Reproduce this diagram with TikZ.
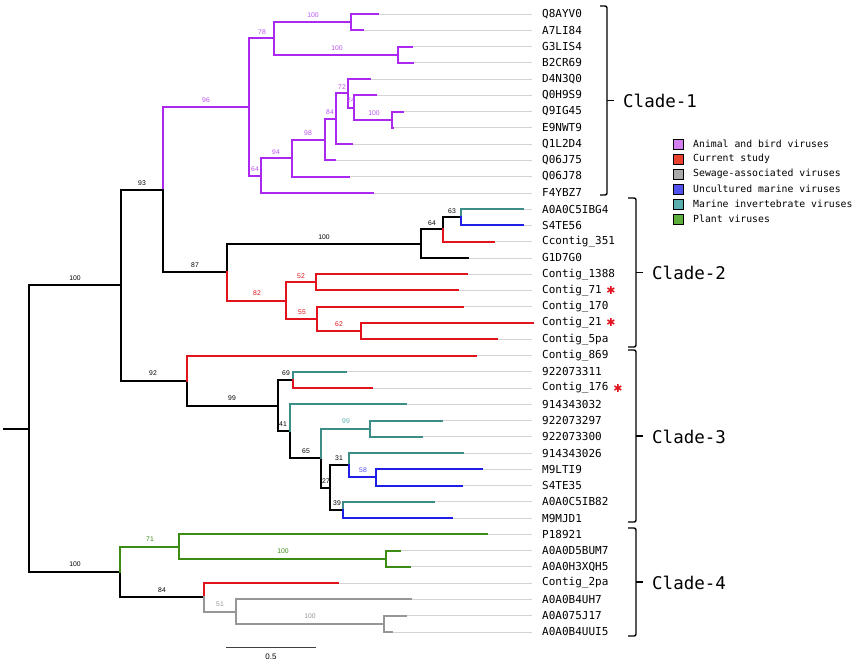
\documentclass[tikz,border=0pt]{standalone}
\usepackage{fontspec}
\newfontfamily\monofont{DejaVu Sans Mono}
\newfontfamily\supfont{Liberation Sans}
\newfontfamily\symfont{DejaVu Sans}
\definecolor{cpur}{RGB}{170,40,240}
\definecolor{cred}{RGB}{225,20,30}
\definecolor{cteal}{RGB}{60,140,135}
\definecolor{cblue}{RGB}{30,30,230}
\definecolor{cgreen}{RGB}{60,140,20}
\definecolor{cgray}{RGB}{150,150,150}
\definecolor{lpur}{RGB}{213,128,240}
\definecolor{lred}{RGB}{232,65,46}
\definecolor{lgray}{RGB}{170,170,170}
\definecolor{lblue}{RGB}{82,82,240}
\definecolor{lteal}{RGB}{90,174,174}
\definecolor{lgreen}{RGB}{92,173,60}
\definecolor{leadc}{RGB}{212,212,212}
\begin{document}
\begin{tikzpicture}[x=1pt,y=-1pt,
  br/.style={line width=2pt, line cap=rect, line join=miter},
  leader/.style={line width=0.8pt, leadc},
  leaf/.style={font=\monofont\fontsize{11}{13}\selectfont, anchor=west, inner sep=0pt},
  sup/.style={font=\supfont\fontsize{6.8}{8}\selectfont, inner sep=0pt},
  clade/.style={font=\monofont\fontsize{17.5}{20}\selectfont, anchor=west, inner sep=0pt},
  legtxt/.style={font=\monofont\fontsize{9.8}{11}\selectfont, anchor=west, inner sep=0pt},
  legbox/.style={draw=black, line width=0.9pt, minimum size=10pt, inner sep=0pt},
  brk/.style={line width=1.4pt, rounded corners=2pt},
  astk/.style={font=\symfont\fontsize{11}{12}\selectfont, text=cred, inner sep=0pt}]
\useasboundingbox (0,0) rectangle (856,664);
\fill[white] (0,0) rectangle (856,664);

% leaves
\foreach \i/\n/\tx/\ty in {
0/Q8AYV0/378/14.0, 1/A7LI84/363/30.3, 2/G3LIS4/412/46.5, 3/B2CR69/413/62.8,
4/D4N3Q0/370/79.0, 5/Q0H9S9/376/95.3, 6/Q9IG45/403/111.6, 7/E9NWT9/393/127.8,
8/Q1L2D4/352/144.1, 9/Q06J75/335/160.3, 10/Q06J78/349/176.6, 11/F4YBZ7/373/192.9,
12/A0A0C5IBG4/523/209.1, 13/S4TE56/523/225.4, 14/Ccontig\_351/494/241.6, 15/G1D7G0/468/257.9,
16/Contig\_1388/467/274.2, 17/Contig\_71/458/290.4, 18/Contig\_170/463/306.7, 19/Contig\_21/533/322.9,
20/Contig\_5pa/497/339.2, 21/Contig\_869/476/355.5, 22/922073311/346/371.7, 23/Contig\_176/372/388.0,
24/914343032/406/404.2, 25/922073297/442/420.5, 26/922073300/422/436.8, 27/914343026/463/453.0,
28/M9LTI9/482/469.3, 29/S4TE35/462/485.5, 30/A0A0C5IB82/434/501.8, 31/M9MJD1/452/518.1,
32/P18921/487/534.3, 33/A0A0D5BUM7/400/550.6, 34/A0A0H3XQH5/410/566.8, 35/Contig\_2pa/338/583.1,
36/A0A0B4UH7/411/599.4, 37/A0A075J17/406/615.6, 38/A0A0B4UUI5/392/631.9}{
  \coordinate (L\i) at (\tx,\ty);
  \coordinate (E\i) at (532,\ty);
  \draw[leader] (L\i) -- (E\i);
  \node[leaf] (t\i) at (542,\ty) {\n};
}

% internal nodes
\coordinate (a1) at (351,22.2);
\coordinate (a2) at (398,54.7);
\coordinate (a3) at (274,38.4);
\coordinate (a4) at (392,119.7);
\coordinate (a5) at (354,107.5);
\coordinate (a6) at (348,93.2);
\coordinate (a7) at (336,118.7);
\coordinate (a8) at (325,139.5);
\coordinate (a9) at (292,158.0);
\coordinate (a10) at (261,175.5);
\coordinate (a11) at (249,107.0);
\coordinate (b1) at (461,217.3);
\coordinate (b2) at (443,229.4);
\coordinate (b3) at (421,243.7);
\coordinate (b4) at (316,282.3);
\coordinate (b5) at (361,331.1);
\coordinate (b6) at (317,318.9);
\coordinate (b7) at (286,300.6);
\coordinate (b8) at (227,272.1);
\coordinate (c0) at (163,189.6);
\coordinate (c1) at (293,379.9);
\coordinate (c2) at (370,428.7);
\coordinate (c3) at (376,477.4);
\coordinate (c4) at (349,465.2);
\coordinate (c5) at (343,509.9);
\coordinate (c6) at (330,487.6);
\coordinate (c7) at (321,458.1);
\coordinate (c8) at (290,431.2);
\coordinate (c9) at (278,405.5);
\coordinate (c10) at (187,380.5);
\coordinate (r1) at (121,285.0);
\coordinate (d1) at (386,558.7);
\coordinate (d2) at (179,546.5);
\coordinate (d3) at (384,623.8);
\coordinate (d4) at (236,611.6);
\coordinate (d5) at (204,597.3);
\coordinate (d6) at (120,571.9);
\coordinate (root) at (29,428.5);
\coordinate (stub) at (4,428.5);

% branches
\foreach \p/\c in {c0/a11, a11/a3, a11/a10, a3/a1, a3/a2, a1/L0, a1/L1, a2/L2, a2/L3,
  a10/a9, a10/L11, a9/a8, a9/L10, a8/a7, a8/L9, a7/a6, a7/L8, a6/L4, a6/a5, a5/L5,
  a5/a4, a4/L6, a4/L7}{\draw[br,cpur] (\p) |- (\c);}
\foreach \p/\c in {root/r1, root/d6, r1/c0, r1/c10, c0/b8, b8/b3, b3/b2, b3/L15, b2/b1,
  c10/c9, c9/c1, c9/c8, c8/c7, c7/c6, c6/c4, c6/c5, d6/d5}{\draw[br,black] (\p) |- (\c);}
\foreach \p/\c in {b1/L12, c1/L22, c8/L24, c7/c2, c2/L25, c2/L26, c4/L27, c5/L30}{\draw[br,cteal] (\p) |- (\c);}
\foreach \p/\c in {b1/L13, c4/c3, c3/L28, c3/L29, c5/L31}{\draw[br,cblue] (\p) |- (\c);}
\foreach \p/\c in {b2/L14, b8/b7, b7/b4, b7/b6, b4/L16, b4/L17, b6/L18, b6/b5, b5/L19,
  b5/L20, c10/L21, c1/L23, d5/L35}{\draw[br,cred] (\p) |- (\c);}
\foreach \p/\c in {d6/d2, d2/L32, d2/d1, d1/L33, d1/L34}{\draw[br,cgreen] (\p) |- (\c);}
\foreach \p/\c in {d5/d4, d4/L36, d4/d3, d3/L37, d3/L38}{\draw[br,cgray] (\p) |- (\c);}
\draw[br,black] (stub) -- (root);

% support values
\foreach \n/\x/\y/\v in {sa1/313/15/100, sa3/262/32/78, sa2/337/48/100, sa11/206/100/96,
  sa10/255/169/64, sa9/276/152/94, sa8/308/133/98, sa7/330/112/84, sa6/342/87/72,
  sa5/351/100/24, sa4/374/113/100}{\node[sup,text=cpur!80] (\n) at (\x,\y) {\v};}
\foreach \n/\x/\y/\v in {sc0/142/183/93, sb8/195/265/87, sb3/324/237/100, sb2/432/223/64,
  sb1/452/211/63, sr1/75/278/100, sc10/153/373/92, sc9/232/398/99, sc1/286/373/69,
  sc8/283/424/41, sc7/306/451/65, sc6/326/481/27, sc4/339/458/31, sc5/337/503/39,
  sd6/75/564/100, sd5/162/590/84}{\node[sup,text=black] (\n) at (\x,\y) {\v};}
\foreach \n/\x/\y/\v in {sb7/257/293/82, sb4/301/276/52, sb6/302/312/55, sb5/339/324/62}{\node[sup,text=cred] (\n) at (\x,\y) {\v};}
\node[sup,text=lteal] (sc2) at (346,421) {99};
\node[sup,text=lblue] (sc3) at (363,470) {58};
\node[sup,text=cgreen] (sd2) at (150,539) {71};
\node[sup,text=cgreen] (sd1) at (283,551) {100};
\node[sup,text=cgray] (sd4) at (220,604) {51};
\node[sup,text=cgray] (sd3) at (310,616) {100};

% asterisks
\node[astk] (ast1) at (611,290.4) {✱};
\node[astk] (ast2) at (611,322.9) {✱};
\node[astk] (ast3) at (618,388.0) {✱};

% scale bar
\coordinate (sbl) at (226,647);
\coordinate (sbr) at (316,647);
\draw[line width=0.9pt, black!75] (sbl) -- (sbr);
\node[sup, font=\supfont\fontsize{8}{9}\selectfont] (sblab) at (271,657) {0.5};

% clade brackets
\draw[brk] (600,6) -- (607,6) -- (607,195) -- (600,195);
\draw[brk] (607,100.5) -- (614,100.5);
\node[clade] (cl1) at (623,101) {Clade-1};
\draw[brk] (628,198) -- (636,198) -- (636,347) -- (628,347);
\draw[brk] (636,272.5) -- (643,272.5);
\node[clade] (cl2) at (652,273) {Clade-2};
\draw[brk] (628,350) -- (636,350) -- (636,522) -- (628,522);
\draw[brk] (636,436) -- (643,436);
\node[clade] (cl3) at (652,437) {Clade-3};
\draw[brk] (628,528) -- (636,528) -- (636,636) -- (628,636);
\draw[brk] (636,582) -- (643,582);
\node[clade] (cl4) at (652,583) {Clade-4};

% legend
\foreach \n/\y/\c/\t in {g1/144/lpur/Animal and bird viruses, g2/159/lred/Current study,
  g3/174/lgray/Sewage-associated viruses, g4/189/lblue/Uncultured marine viruses,
  g5/204/lteal/Marine invertebrate viruses, g6/219/lgreen/Plant viruses}{
  \node[legbox, fill=\c] (\n b) at (678.5,\y) {};
  \node[legtxt] (\n t) at (693,\y) {\t};
}
\end{tikzpicture}
\end{document}
